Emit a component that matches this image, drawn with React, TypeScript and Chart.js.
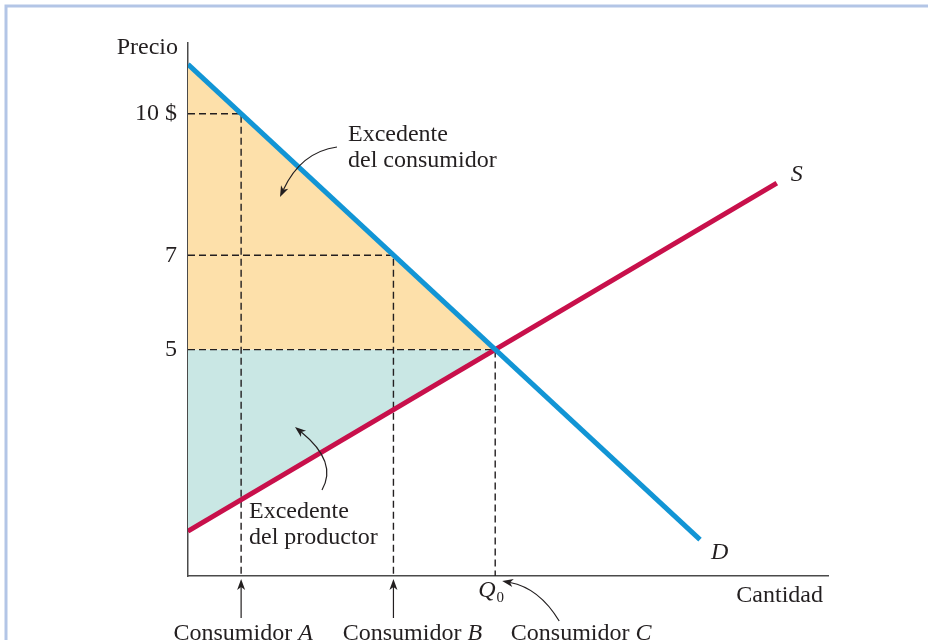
import React, { useEffect, useRef } from "react";
import { Chart, registerables } from "chart.js";

Chart.register(...registerables);

// ---- data ----
const quantityMax = 100;
const priceMin = 0.2;
const priceMax = 11.5;

const demandQ = [0, 80];
const demandP = [11.05, 0.97];

const supplyQ = [0, 92];
const supplyP = [1.15, 8.53];

const equilibriumQ = 48;
const equilibriumP = 5;

const consumerNames = ["A", "B", "C"];
const consumerQ = [8.3, 32.1, 48];
const consumerP = [10, 7, 5];

const priceTicks = [5, 7, 10];
const priceTickLabels = ["5", "7", "10 $"];

const FONT = "'Liberation Serif', 'Times New Roman', serif";
const TEXT = "#231f20";
const BLUE = "#1295d5";
const RED = "#c8104b";
const PEACH = "#fde0aa";
const TEAL = "#c9e7e4";

function arrowHead(ctx: CanvasRenderingContext2D, x: number, y: number, angle: number) {
  const len = 11;
  const half = 4;
  ctx.save();
  ctx.translate(x, y);
  ctx.rotate(angle);
  ctx.beginPath();
  ctx.moveTo(0, 0);
  ctx.lineTo(-len, -half);
  ctx.lineTo(-len + 3, 0);
  ctx.lineTo(-len, half);
  ctx.closePath();
  ctx.fill();
  ctx.restore();
}

function curvedArrow(
  ctx: CanvasRenderingContext2D,
  sx: number, sy: number, cx: number, cy: number, ex: number, ey: number
) {
  const ang = Math.atan2(ey - cy, ex - cx);
  const bx = ex - Math.cos(ang) * 8;
  const by = ey - Math.sin(ang) * 8;
  ctx.beginPath();
  ctx.moveTo(sx, sy);
  ctx.quadraticCurveTo(cx, cy, bx, by);
  ctx.stroke();
  arrowHead(ctx, ex, ey, ang);
}

const annotationPlugin = {
  id: "annotations",
  beforeDraw(chart: any) {
    const ctx = chart.ctx as CanvasRenderingContext2D;
    ctx.save();
    ctx.fillStyle = "#ffffff";
    ctx.fillRect(0, 0, chart.width, chart.height);
    // frame
    ctx.strokeStyle = "#b3c5e6";
    ctx.lineWidth = 3;
    ctx.beginPath();
    ctx.moveTo(6, chart.height);
    ctx.lineTo(6, 6);
    ctx.lineTo(chart.width, 6);
    ctx.stroke();
    ctx.restore();
  },
  afterDraw(chart: any) {
    const ctx = chart.ctx as CanvasRenderingContext2D;
    const xs = chart.scales.x;
    const ys = chart.scales.y;
    const area = chart.chartArea;
    ctx.save();
    ctx.fillStyle = TEXT;
    ctx.strokeStyle = TEXT;
    ctx.lineWidth = 1.2;
    ctx.textBaseline = "alphabetic";

    const normal = `24px ${FONT}`;
    const italic = `italic 24px ${FONT}`;

    // axis titles
    ctx.font = normal;
    ctx.textAlign = "right";
    ctx.fillText("Precio", area.left - 10, area.top + 11);
    ctx.fillText("Cantidad", area.right - 5, area.bottom + 26);

    // curve names
    ctx.font = italic;
    ctx.textAlign = "left";
    const dEndX = xs.getPixelForValue(demandQ[demandQ.length - 1]);
    const dEndY = ys.getPixelForValue(demandP[demandP.length - 1]);
    ctx.fillText("D", dEndX + 11, dEndY + 19);
    const sEndX = xs.getPixelForValue(supplyQ[supplyQ.length - 1]);
    const sEndY = ys.getPixelForValue(supplyP[supplyP.length - 1]);
    ctx.fillText("S", sEndX + 14, sEndY - 2);

    // Q0
    const q0x = xs.getPixelForValue(equilibriumQ);
    ctx.font = italic;
    ctx.fillText("Q", q0x - 17, area.bottom + 21);
    const qW = ctx.measureText("Q").width;
    ctx.font = `15px ${FONT}`;
    ctx.fillText("0", q0x - 17 + qW + 1, area.bottom + 26);

    // surplus labels
    ctx.font = normal;
    ctx.fillText("Excedente", 348, 141);
    ctx.fillText("del consumidor", 348, 167);
    ctx.fillText("Excedente", 249, 518);
    ctx.fillText("del productor", 249, 544);

    // surplus arrows
    curvedArrow(ctx, 337, 147, 301, 152, 280, 197);
    curvedArrow(ctx, 322, 490, 338, 462, 295, 427);

    // consumer labels and arrows
    const labelOffsets = [2, 19, 86];
    consumerNames.forEach((name, i) => {
      const px = xs.getPixelForValue(consumerQ[i]);
      const cx = px + labelOffsets[i];
      ctx.font = normal;
      const w1 = ctx.measureText("Consumidor ").width;
      ctx.font = italic;
      const w2 = ctx.measureText(name).width;
      const start = cx - (w1 + w2) / 2;
      ctx.textAlign = "left";
      ctx.font = normal;
      ctx.fillText("Consumidor ", start, 640);
      ctx.font = italic;
      ctx.fillText(name, start + w1, 640);
      if (i < 2) {
        ctx.beginPath();
        ctx.moveTo(px, 618);
        ctx.lineTo(px, area.bottom + 10);
        ctx.stroke();
        arrowHead(ctx, px, area.bottom + 3, -Math.PI / 2);
      } else {
        curvedArrow(ctx, px + 64, 621, px + 44, 588, px + 7, area.bottom + 5);
      }
    });
    ctx.restore();
  },
};

export default function App() {
  const canvasRef = useRef<HTMLCanvasElement | null>(null);

  useEffect(() => {
    if (!canvasRef.current) return;
    const line = (q: number[], p: number[]) => q.map((x, i) => ({ x, y: p[i] }));
    const demandSlope = (demandP[1] - demandP[0]) / (demandQ[1] - demandQ[0]);
    const supplySlope = (supplyP[1] - supplyP[0]) / (supplyQ[1] - supplyQ[0]);

    const dashed = consumerQ.map((q, i) => ({
      data: [
        { x: 0, y: consumerP[i] },
        { x: q, y: consumerP[i] },
        { x: q, y: priceMin },
      ],
      borderColor: TEXT,
      borderWidth: 1.4,
      borderDash: [7, 4],
      pointRadius: 0,
      fill: false,
      order: 1,
    }));

    const chart = new Chart(canvasRef.current, {
      type: "line",
      data: {
        datasets: [
          {
            data: line(demandQ, demandP),
            borderColor: BLUE,
            borderWidth: 5,
            pointRadius: 0,
            fill: false,
            order: 0,
          },
          {
            data: line(supplyQ, supplyP),
            borderColor: RED,
            borderWidth: 5,
            pointRadius: 0,
            fill: false,
            order: 0,
          },
          ...dashed,
          {
            data: [
              { x: 0, y: demandP[0] },
              { x: equilibriumQ, y: demandP[0] + demandSlope * equilibriumQ },
            ],
            borderWidth: 0,
            borderColor: "rgba(0,0,0,0)",
            backgroundColor: PEACH,
            pointRadius: 0,
            fill: { value: equilibriumP },
            order: 2,
          },
          {
            data: [
              { x: 0, y: supplyP[0] },
              { x: equilibriumQ, y: supplyP[0] + supplySlope * equilibriumQ },
            ],
            borderWidth: 0,
            borderColor: "rgba(0,0,0,0)",
            backgroundColor: TEAL,
            pointRadius: 0,
            fill: { value: equilibriumP },
            order: 2,
          },
        ],
      },
      options: {
        animation: false,
        responsive: false,
        maintainAspectRatio: false,
        devicePixelRatio: 1,
        layout: { padding: { left: 0, top: 43, right: 100, bottom: 0 } },
        plugins: {
          legend: { display: false },
          tooltip: { enabled: false },
        },
        scales: {
          x: {
            type: "linear",
            min: 0,
            max: quantityMax,
            grid: { display: false, drawTicks: false },
            ticks: { display: false },
            border: { display: true, color: "#4a4a4a", width: 1.5 },
            afterFit: (s: any) => {
              s.height = 64;
            },
          },
          y: {
            type: "linear",
            min: priceMin,
            max: priceMax,
            grid: { display: false, drawTicks: false },
            border: { display: true, color: "#4a4a4a", width: 1.5 },
            afterBuildTicks: (s: any) => {
              s.ticks = priceTicks.map((v) => ({ value: v }));
            },
            afterFit: (s: any) => {
              s.width = 188;
            },
            ticks: {
              autoSkip: false,
              padding: 11,
              color: TEXT,
              font: { family: FONT, size: 24 },
              callback: (v: any) => {
                const idx = priceTicks.indexOf(Number(v));
                return idx >= 0 ? priceTickLabels[idx] : "";
              },
            },
          },
        },
      } as any,
      plugins: [annotationPlugin],
    });
    return () => chart.destroy();
  }, []);

  return (
    <div style={{ position: "fixed", left: 0, top: 0, width: 928, height: 640, background: "#fff" }}>
      <canvas ref={canvasRef} width={928} height={640} style={{ display: "block" }} />
    </div>
  );
}
